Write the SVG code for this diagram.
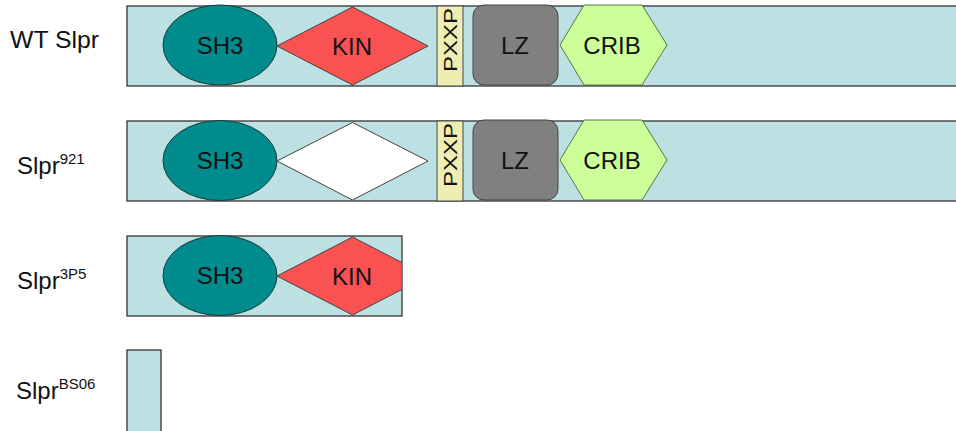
<svg xmlns="http://www.w3.org/2000/svg" width="956" height="431" viewBox="0 0 956 431">
<style>
.bar{fill:#bde0e3;stroke:#333;stroke-width:1.3}
.sh3{fill:#008c8c;stroke:#1a3a3a;stroke-width:1}
.kin{fill:#fa5252;stroke:#444;stroke-width:1}
.kinx{fill:#ffffff;stroke:#444;stroke-width:1}
.pxxp{fill:#eeeeb2;stroke:#444;stroke-width:1}
.lz{fill:#808080;stroke:#444;stroke-width:1}
.crib{fill:#ccff99;stroke:#557744;stroke-width:1}
.t{font-family:"Liberation Sans",Arial,sans-serif;font-size:24px;fill:#111;text-anchor:middle}
.pt{font-family:"Liberation Sans",Arial,sans-serif;font-size:19px;fill:#111;text-anchor:middle}
.lbl{font-family:"Liberation Sans",Arial,sans-serif;font-size:24px;fill:#111}
.sup{font-size:15px}
</style>
<defs>
<clipPath id="c3"><rect x="127" y="230" width="274" height="90"/></clipPath>
</defs>
<rect width="956" height="431" fill="#fff"/>

<g id="row1">
<text class="lbl" x="10" y="48" textLength="89" lengthAdjust="spacingAndGlyphs">WT Slpr</text>
<rect class="bar" x="127" y="6" width="835" height="80"/>
<g id="r1-sh3"><ellipse class="sh3" cx="220" cy="45" rx="57" ry="40"/><text class="t" x="220" y="54">SH3</text></g>
<g id="r1-kin"><polygon class="kin" points="277,46 352.5,7 428,46 352.5,85"/><text class="t" x="352" y="55">KIN</text></g>
<g id="r1-pxxp"><rect class="pxxp" x="437" y="6" width="26" height="80"/><text class="pt" transform="translate(457,40) rotate(-90)" textLength="64" lengthAdjust="spacingAndGlyphs">PXXP</text></g>
<g id="r1-lz"><rect class="lz" x="473" y="5" width="85" height="80" rx="11"/><text class="t" x="515" y="54">LZ</text></g>
<g id="r1-crib"><polygon class="crib" points="560,45 584,5 642,5 667,45 642,85 584,85"/><text class="t" x="612" y="54">CRIB</text></g>
</g>

<g id="row2">
<text class="lbl" x="17" y="174">Slpr<tspan class="sup" dy="-10">921</tspan></text>
<rect class="bar" x="127" y="121" width="835" height="80"/>
<g id="r2-sh3"><ellipse class="sh3" cx="220" cy="160.5" rx="57" ry="40"/><text class="t" x="220" y="169">SH3</text></g>
<g id="r2-kin"><polygon class="kinx" points="277,161 352.5,122.5 428,161 352.5,200"/></g>
<g id="r2-pxxp"><rect class="pxxp" x="437" y="121" width="26" height="80"/><text class="pt" transform="translate(457,155) rotate(-90)" textLength="64" lengthAdjust="spacingAndGlyphs">PXXP</text></g>
<g id="r2-lz"><rect class="lz" x="473" y="120" width="85" height="80" rx="11"/><text class="t" x="515" y="169">LZ</text></g>
<g id="r2-crib"><polygon class="crib" points="560,160 584,120 642,120 667,160 642,200 584,200"/><text class="t" x="612" y="169">CRIB</text></g>
</g>

<g id="row3">
<text class="lbl" x="17" y="289">Slpr<tspan class="sup" dy="-10">3P5</tspan></text>
<rect class="bar" x="127" y="236" width="275" height="80"/>
<g id="r3-sh3"><ellipse class="sh3" cx="220" cy="275.5" rx="57" ry="40"/><text class="t" x="220" y="284">SH3</text></g>
<g id="r3-kin" clip-path="url(#c3)"><polygon class="kin" points="277,276 352.5,237 428,276 352.5,315"/><text class="t" x="352" y="285">KIN</text></g>
</g>

<g id="row4">
<text class="lbl" x="16" y="399">Slpr<tspan class="sup" dy="-10">BS06</tspan></text>
<rect class="bar" x="127" y="350" width="34" height="85"/>
</g>
</svg>
